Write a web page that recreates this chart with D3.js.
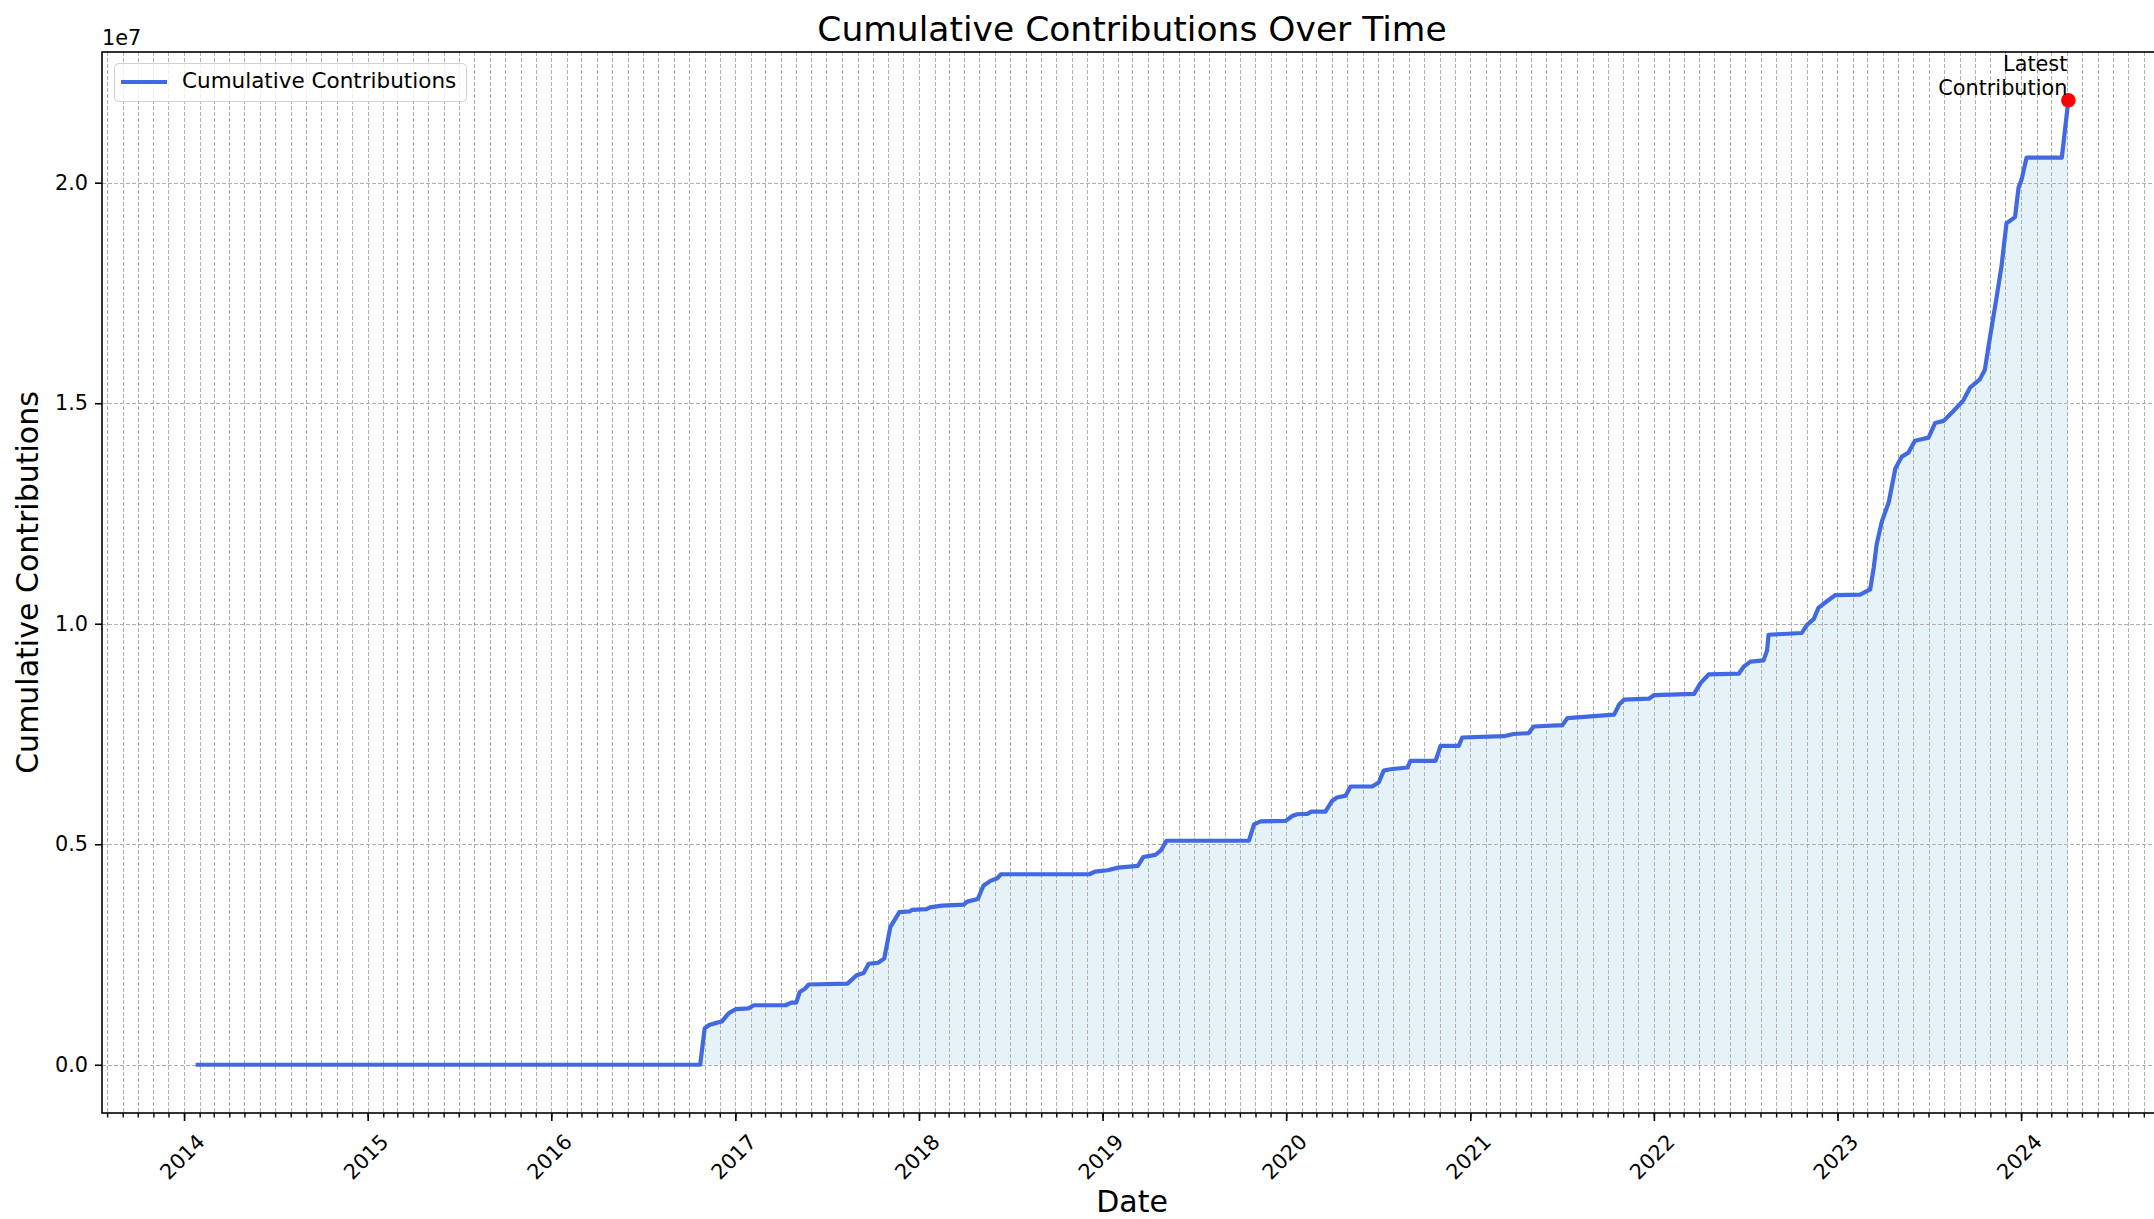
<!DOCTYPE html>
<html>
<head>
<meta charset="utf-8">
<script src="https://cdn.jsdelivr.net/npm/d3@7"></script>
<style>
  body { margin: 0; background: #fff; }
  svg { display: block; font-family: 'DejaVu Sans', sans-serif; }
</style>
</head>
<body>
<div id="chart"></div>
<script>
// dates of the points on the cumulative line
const dates = [
  '2014-01-24', '2016-10-23', '2016-11-01', '2016-11-10', '2016-11-24', '2016-12-05', '2016-12-19',
  '2017-01-02', '2017-01-27', '2017-02-07', '2017-04-11', '2017-04-22', '2017-05-02', '2017-05-09',
  '2017-05-20', '2017-05-27', '2017-08-12', '2017-08-30', '2017-09-13', '2017-09-23', '2017-10-11',
  '2017-10-24', '2017-11-05', '2017-11-23', '2017-12-14', '2017-12-18',
  '2018-01-16', '2018-01-23', '2018-02-16', '2018-03-31', '2018-04-07', '2018-04-28', '2018-05-09',
  '2018-05-23', '2018-06-06', '2018-06-13', '2018-12-06', '2018-12-17',
  '2019-01-11', '2019-02-01', '2019-03-12', '2019-03-23', '2019-04-16', '2019-04-27', '2019-05-08',
  '2019-10-19', '2019-10-29', '2019-11-11', '2019-12-31',
  '2020-01-13', '2020-01-23', '2020-02-12', '2020-02-20', '2020-03-19', '2020-04-01', '2020-04-11',
  '2020-04-28', '2020-05-08', '2020-06-20', '2020-07-03', '2020-07-13', '2020-07-26', '2020-08-29',
  '2020-09-04', '2020-10-24', '2020-11-03', '2020-12-09', '2020-12-16',
  '2021-03-09', '2021-03-28', '2021-04-27', '2021-05-07', '2021-07-03', '2021-07-13', '2021-10-14',
  '2021-10-24', '2021-11-03', '2021-12-22',
  '2022-01-01', '2022-03-22', '2022-04-04', '2022-04-20', '2022-06-19', '2022-06-29', '2022-07-12',
  '2022-08-07', '2022-08-14', '2022-08-17', '2022-10-22', '2022-11-01', '2022-11-15', '2022-11-24',
  '2022-12-11', '2022-12-28',
  '2023-02-15', '2023-03-07', '2023-03-14', '2023-03-20', '2023-03-30', '2023-04-13', '2023-04-26',
  '2023-05-09', '2023-05-22', '2023-06-04', '2023-07-01', '2023-07-14', '2023-07-31', '2023-08-19',
  '2023-09-08', '2023-09-22', '2023-10-11', '2023-10-21', '2023-10-31', '2023-11-13', '2023-11-23',
  '2023-12-03', '2023-12-20', '2023-12-27',
  '2024-01-02', '2024-01-12', '2024-03-22', '2024-04-04'
]

// cumulative contributions, in millions
const contributionsM = [
  0, 0, 0.83, 0.90, 0.95, 0.98, 1.17,
  1.26, 1.28, 1.35, 1.35, 1.41, 1.41, 1.65,
  1.73, 1.82, 1.84, 2.03, 2.08, 2.29, 2.31,
  2.41, 3.12, 3.46, 3.48, 3.51,
  3.53, 3.57, 3.61, 3.63, 3.70, 3.76, 4.06,
  4.17, 4.23, 4.32, 4.32, 4.38,
  4.41, 4.47, 4.51, 4.71, 4.76, 4.86, 5.08,
  5.08, 5.45, 5.52, 5.53,
  5.64, 5.68, 5.69, 5.74, 5.74, 5.98, 6.06,
  6.10, 6.31, 6.31, 6.40, 6.67, 6.70, 6.74,
  6.89, 6.89, 7.23, 7.23, 7.42,
  7.45, 7.50, 7.52, 7.67, 7.70, 7.86, 7.94,
  8.17, 8.28, 8.30,
  8.38, 8.41, 8.66, 8.85, 8.87, 9.03, 9.14,
  9.17, 9.39, 9.75, 9.79, 9.97, 10.11, 10.36,
  10.51, 10.65,
  10.66, 10.78, 11.27, 11.81, 12.31, 12.76, 13.52,
  13.79, 13.88, 14.15, 14.22, 14.55, 14.60, 14.82,
  15.06, 15.36, 15.54, 15.76, 16.48, 17.38, 18.10,
  19.08, 19.22, 19.89,
  20.07, 20.57, 20.57, 21.87
]

const yTickValues = [0, 5e6, 1e7, 1.5e7, 2e7]
const seriesName = 'Cumulative Contributions'
const titleText = 'Cumulative Contributions Over Time'
const xLabel = 'Date'
const yLabel = 'Cumulative Contributions'
const annotationLines = ['Latest', 'Contribution']

let w = 2154
let h = 1219
let plotLeft = 102
let plotRight = 2162
let plotTop = 52
let plotBottom = 1113
let tickFont = 20.8

let parse = d3.timeParse('%Y-%m-%d')
let data = dates.map(function (d, i) {
  return { date: parse(d), value: contributionsM[i] * 1e6 }
})

// matplotlib style 5% margins
let ext = d3.extent(data, d => d.date)
let pad = (ext[1] - ext[0]) * 0.05
let x = d3.scaleTime()
  .domain([new Date(+ext[0] - pad), new Date(+ext[1] + pad)])
  .range([plotLeft, plotRight])
let vmax = d3.max(data, d => d.value)
let y = d3.scaleLinear()
  .domain([-vmax * 0.05, vmax * 1.05])
  .range([plotBottom, plotTop])

let svg = d3.select('#chart').append('svg')
  .attr('width', w)
  .attr('height', h)

svg.append('rect').attr('width', w).attr('height', h).attr('fill', '#fff')

svg.append('clipPath').attr('id', 'plot')
  .append('rect')
  .attr('x', plotLeft).attr('y', plotTop)
  .attr('width', plotRight - plotLeft).attr('height', plotBottom - plotTop)

let plot = svg.append('g').attr('clip-path', 'url(#plot)')

// fill under the line
plot.append('path')
  .datum(data)
  .attr('fill', 'lightblue')
  .attr('fill-opacity', 0.32)
  .attr('d', d3.area()
    .x(d => x(d.date))
    .y0(y(0))
    .y1(d => y(d.value)))

// grid: monthly vertical, major horizontal
let months = x.ticks(d3.timeMonth.every(1))
let years = x.ticks(d3.timeYear.every(1))

plot.append('g')
  .selectAll('line')
  .data(months)
  .enter()
  .append('line')
  .attr('x1', d => Math.round(x(d)) + 0.5)
  .attr('x2', d => Math.round(x(d)) + 0.5)
  .attr('y1', plotTop)
  .attr('y2', plotBottom)
  .attr('stroke', '#b0b0b0')
  .attr('stroke-width', 1)
  .attr('stroke-dasharray', '4,2')

plot.append('g')
  .selectAll('line')
  .data(yTickValues)
  .enter()
  .append('line')
  .attr('x1', plotLeft)
  .attr('x2', plotRight)
  .attr('y1', d => Math.round(y(d)) + 0.5)
  .attr('y2', d => Math.round(y(d)) + 0.5)
  .attr('stroke', '#b0b0b0')
  .attr('stroke-width', 1)
  .attr('stroke-dasharray', '4,2')

plot.append('path')
  .datum(data)
  .attr('fill', 'none')
  .attr('stroke', '#4169e1')
  .attr('stroke-width', 4.2)
  .attr('stroke-linejoin', 'round')
  .attr('d', d3.line()
    .x(d => x(d.date))
    .y(d => y(d.value)))

let last = data[data.length - 1]
plot.append('circle')
  .attr('cx', x(last.date))
  .attr('cy', y(last.value))
  .attr('r', 7.3)
  .attr('fill', 'red')

let note = svg.append('text')
  .attr('text-anchor', 'end')
  .attr('font-size', tickFont)
  .attr('fill', '#000')
annotationLines.forEach(function (t, i) {
  note.append('tspan')
    .attr('x', x(last.date) - 1)
    .attr('y', y(last.value) - 29 + i * 24)
    .text(t)
})

// x axis, minor then major
let minorAxis = svg.append('g')
  .attr('transform', 'translate(0,' + plotBottom + ')')
  .call(d3.axisBottom(x).tickValues(months).tickSize(4.5).tickFormat(''))
minorAxis.select('.domain').remove()
minorAxis.selectAll('line').attr('stroke', '#000').attr('stroke-width', 1.4)

let xAxis = svg.append('g')
  .attr('transform', 'translate(0,' + plotBottom + ')')
  .call(d3.axisBottom(x).tickValues(years).tickSize(8).tickFormat(d3.timeFormat('%Y')))
xAxis.select('.domain').remove()
xAxis.selectAll('line').attr('stroke', '#000').attr('stroke-width', 1.6)
xAxis.selectAll('text')
  .attr('y', 0)
  .attr('dy', null)
  .attr('font-size', tickFont)
  .attr('font-family', 'DejaVu Sans')
  .attr('fill', '#000')
  .attr('text-anchor', 'middle')
  .attr('dominant-baseline', 'central')
  .attr('transform', 'translate(-2,44) rotate(-45)')

let yAxis = svg.append('g')
  .attr('transform', 'translate(' + plotLeft + ',0)')
  .call(d3.axisLeft(y).tickValues(yTickValues).tickSize(7).tickPadding(7)
    .tickFormat(v => (v / 1e7).toFixed(1)))
yAxis.select('.domain').remove()
yAxis.selectAll('line').attr('stroke', '#000').attr('stroke-width', 1.6)
yAxis.selectAll('text')
  .attr('font-size', tickFont)
  .attr('font-family', 'DejaVu Sans')
  .attr('fill', '#000')

// spines
svg.append('rect')
  .attr('x', plotLeft)
  .attr('y', plotTop)
  .attr('width', plotRight - plotLeft)
  .attr('height', plotBottom - plotTop)
  .attr('fill', 'none')
  .attr('stroke', '#000')
  .attr('stroke-width', 1.6)

// offset text
svg.append('text')
  .attr('x', plotLeft)
  .attr('y', 45)
  .attr('font-size', tickFont)
  .text('1e7')

// legend
let legend = svg.append('g')
legend.append('rect')
  .attr('x', 114.5).attr('y', 63.5)
  .attr('width', 352).attr('height', 38)
  .attr('rx', 4)
  .attr('fill', '#fff')
  .attr('fill-opacity', 0.8)
  .attr('stroke', '#d0d0d0')
legend.append('line')
  .attr('x1', 121).attr('x2', 167)
  .attr('y1', 82).attr('y2', 82)
  .attr('stroke', '#4169e1')
  .attr('stroke-width', 4)
legend.append('text')
  .attr('x', 182)
  .attr('y', 88)
  .attr('font-size', 21.5)
  .text(seriesName)

svg.append('text')
  .attr('x', (plotLeft + plotRight) / 2)
  .attr('y', 41)
  .attr('text-anchor', 'middle')
  .attr('font-size', 34.5)
  .text(titleText)

svg.append('text')
  .attr('x', (plotLeft + plotRight) / 2)
  .attr('y', 1212)
  .attr('text-anchor', 'middle')
  .attr('font-size', 30)
  .text(xLabel)

svg.append('text')
  .attr('transform', 'translate(27,' + (plotTop + plotBottom) / 2 + ') rotate(-90)')
  .attr('text-anchor', 'middle')
  .attr('dominant-baseline', 'central')
  .attr('font-size', 30)
  .text(yLabel)
</script>
</body>
</html>
